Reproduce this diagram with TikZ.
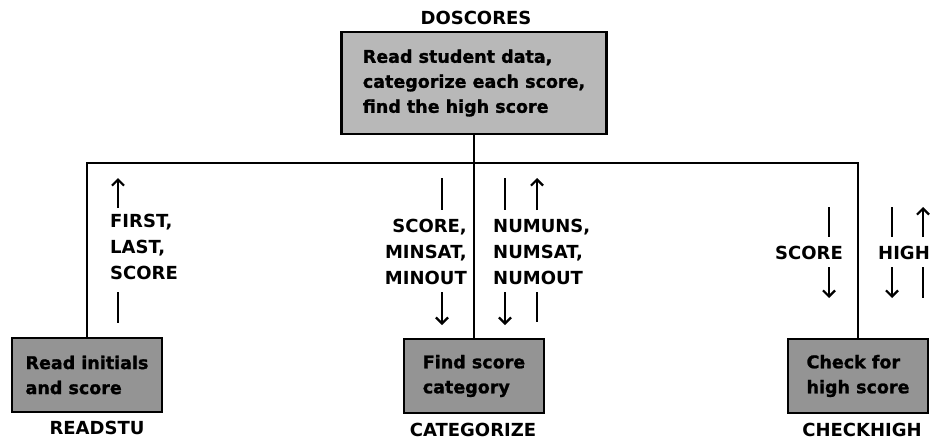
\documentclass[tikz,border=0pt]{standalone}
\usepackage{fontspec}
\setmainfont{DejaVu Sans}
\newfontfamily\heavyfont{DejaVu Sans}[BoldFeatures={FakeBold=1.3}]
\usetikzlibrary{arrows.meta}
\begin{document}
\begin{tikzpicture}[x=1pt,y=-1pt,
  wire/.style={line width=2.4pt},
  flowline/.style={line width=2.4pt},
  flowtip/.style={line width=2.4pt,-{Straight Barb[length=6pt,width=12pt,line width=2.2pt]}},
  boxtext/.style={font=\heavyfont\bfseries\fontsize{17.5}{25}\selectfont,align=left,inner sep=0pt},
  topbox/.style={boxtext,draw,line width=2.6pt,fill=black!28,minimum width=265pt,minimum height=102pt},
  subbox/.style={boxtext,draw,line width=2.6pt,fill=black!42,minimum height=74pt},
  lbl/.style={font=\bfseries\fontsize{18}{26}\selectfont,inner sep=0pt},
]
\useasboundingbox (0,0) rectangle (937,440);

% boxes
\node[topbox] (top) at (474,83) {Read student data,\\categorize each score,\\find the high score};
\node[subbox,minimum width=150pt] (rs) at (87,375) {Read initials\\and score};
\node[subbox,minimum width=140pt] (cat) at (474,376) {Find score\\category};
\node[subbox,minimum width=140pt] (ch) at (858,376) {Check for\\high score};

% module names
\node[lbl] (ntop) at (476,18) {DOSCORES};
\node[lbl] (nrs) at (97,428) {READSTU};
\node[lbl] (ncat) at (473,430) {CATEGORIZE};
\node[lbl] (nch) at (862,430) {CHECKHIGH};

% tree lines
\coordinate (busy) at (0,163);
\draw[wire,line join=miter] (rs.north) |- (ch.north |- busy) -- (ch.north);
\draw[wire] (top.south) -- (top.south |- busy);
\draw[wire] (cat.north) -- (cat.north |- busy);

% parameter labels
\node[lbl,align=left,anchor=west] (pl) at (110,247) {FIRST,\\LAST,\\SCORE};
\node[lbl,align=right,anchor=east] (pml) at (467,252) {SCORE,\\MINSAT,\\MINOUT};
\node[lbl,align=left,anchor=west] (pmr) at (493,252) {NUMUNS,\\NUMSAT,\\NUMOUT};
\node[lbl] (prs) at (809,253) {SCORE};
\node[lbl] (prh) at (904,253) {HIGH};

% left group
\coordinate (l1a) at (118,208); \coordinate (l1b) at (118,178);
\coordinate (l2a) at (118,292); \coordinate (l2b) at (118,323);
\draw[flowtip] (l1a) -- (l1b);
\draw[flowline] (l2a) -- (l2b);

% middle group, left
\coordinate (m1a) at (442,178); \coordinate (m1b) at (442,210);
\coordinate (m2a) at (442,292); \coordinate (m2b) at (442,325);
\draw[flowline] (m1a) -- (m1b);
\draw[flowtip] (m2a) -- (m2b);

% middle group, right
\coordinate (m3a) at (505,178); \coordinate (m3b) at (505,210);
\coordinate (m4a) at (505,292); \coordinate (m4b) at (505,325);
\coordinate (m5a) at (537,210); \coordinate (m5b) at (537,178);
\coordinate (m6a) at (537,292); \coordinate (m6b) at (537,322);
\draw[flowline] (m3a) -- (m3b);
\draw[flowtip] (m4a) -- (m4b);
\draw[flowtip] (m5a) -- (m5b);
\draw[flowline] (m6a) -- (m6b);

% right group
\coordinate (r1a) at (829,207); \coordinate (r1b) at (829,237);
\coordinate (r2a) at (829,267); \coordinate (r2b) at (829,298);
\coordinate (r3a) at (892,207); \coordinate (r3b) at (892,237);
\coordinate (r4a) at (892,267); \coordinate (r4b) at (892,298);
\coordinate (r5a) at (923,237); \coordinate (r5b) at (923,207);
\coordinate (r6a) at (923,267); \coordinate (r6b) at (923,298);
\draw[flowline] (r1a) -- (r1b);
\draw[flowtip] (r2a) -- (r2b);
\draw[flowline] (r3a) -- (r3b);
\draw[flowtip] (r4a) -- (r4b);
\draw[flowtip] (r5a) -- (r5b);
\draw[flowline] (r6a) -- (r6b);
\end{tikzpicture}
\end{document}
